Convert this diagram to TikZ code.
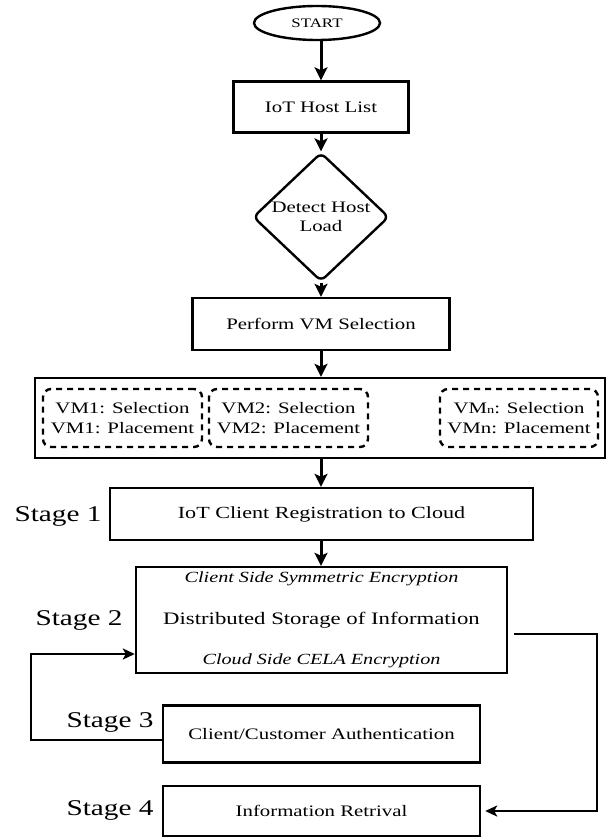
\documentclass[tikz,border=0pt]{standalone}
\usepackage{fontspec}
\setmainfont{Liberation Serif}[FakeStretch=1.3]
\usetikzlibrary{arrows.meta,shapes.geometric}

\tikzset{
  procbox/.style={draw, line width=2.4pt, inner sep=0pt, align=center,
    font=\fontsize{16}{19}\selectfont},
  vmbox/.style={draw, line width=2.4pt, dash pattern=on 6pt off 5pt,
    rounded corners=8pt, inner sep=0pt, align=center,
    minimum height=58, font=\fontsize{16}{19.5}\selectfont},
  stagelbl/.style={inner sep=0pt, font=\fontsize{22.5}{25}\selectfont},
  sidetxt/.style={inner sep=0pt, font=\fontsize{15.5}{18}\selectfont\itshape},
  flow/.style={line width=3pt, -{Stealth[length=13pt,width=13pt,inset=3pt]}},
  link/.style={line width=2.4pt, -{Stealth[length=12pt,width=11pt,inset=3pt]}}
}

\begin{document}
\begin{tikzpicture}[x=1pt,y=-1pt]
  \useasboundingbox (0,0) rectangle (610,837);

  % main flow
  \node[draw, line width=2.4pt, ellipse, minimum width=126, minimum height=34,
        inner sep=0pt, font=\fontsize{13}{15}\selectfont] (start) at (317,23) {START};
  \node[procbox, minimum width=175, minimum height=51] (hosts) at (321,107) {IoT Host List};
  \node[draw, line width=2.4pt, diamond, rounded corners=6pt, minimum width=136,
        minimum height=102, inner sep=0pt, align=center,
        font=\fontsize{16}{19.5}\selectfont] (load) at (321,217) {Detect Host\\Load};
  \node[procbox, minimum width=257, minimum height=52] (vmsel) at (321,324) {Perform VM Selection};

  % container with VM selection/placement pairs
  \node[draw, line width=2.4pt, minimum width=570, minimum height=80, inner sep=0pt] (vms) at (320,418) {};
  \node[vmbox, minimum width=159] (vm1) at (122.5,418) {VM1: Selection\\VM1: Placement};
  \node[vmbox, minimum width=159] (vm2) at (288.5,418) {VM2: Selection\\VM2: Placement};
  \node[vmbox, minimum width=158] (vmn) at (519,418)
    {VM{\fontsize{11}{11}\selectfont n}: Selection\\VMn: Placement};

  % stages
  \node[procbox, minimum width=423, minimum height=52,
        font=\fontsize{17}{20}\selectfont] (reg) at (321.5,514) {IoT Client Registration to Cloud};
  \node[procbox, minimum width=371, minimum height=106,
        font=\fontsize{17.5}{20}\selectfont] (store) at (321.5,620) {Distributed Storage of Information};
  \node[sidetxt] (csym) at (321.5,579) {Client Side Symmetric Encryption};
  \node[sidetxt] (ccela) at (321.5,661) {Cloud Side CELA Encryption};
  \node[procbox, minimum width=317, minimum height=57] (auth) at (321.5,734) {Client/Customer Authentication};
  \node[procbox, minimum width=317, minimum height=50] (retr) at (321.5,811) {Information Retrival};

  \node[stagelbl] (s1) at (58,516) {Stage 1};
  \node[stagelbl] (s2) at (79,620) {Stage 2};
  \node[stagelbl] (s3) at (110,722) {Stage 3};
  \node[stagelbl] (s4) at (110,810) {Stage 4};

  % connectors
  \draw[flow] (hosts.north |- start.south) -- (hosts.north);
  \draw[flow] (hosts.south) -- (load.north);
  \draw[flow] (load.south) -- (vmsel.north);
  \draw[flow] (vmsel.south) -- (vmsel.south |- vms.north);
  \draw[flow] (vmsel.south |- vms.south) -- (vmsel.south |- reg.north);
  \draw[flow] (vmsel.south |- reg.south) -- (vmsel.south |- store.north);

  \coordinate (loopL) at (31,740);
  \coordinate (loopT) at (31,654);
  \draw[link] (auth.west |- loopL) -- (loopL) -- (loopT) -- (store.west |- loopT);

  \coordinate (sideR) at (597,634);
  \coordinate (sideB) at (597,811);
  \draw[link, shorten >=4pt] ([xshift=6pt]store.east |- sideR) -- (sideR) -- (sideB) -- (retr.east |- sideB);
\end{tikzpicture}
\end{document}
